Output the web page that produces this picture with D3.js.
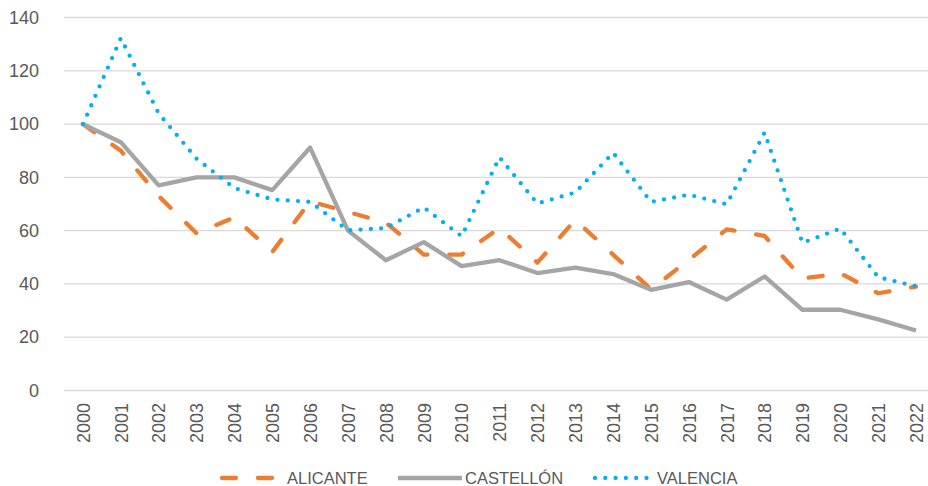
<!DOCTYPE html>
<html>
<head>
<meta charset="utf-8">
<script src="https://cdn.jsdelivr.net/npm/d3@7"></script>
<style>
  body { margin: 0; background: #fff; }
  text { fill: #595959; }
</style>
</head>
<body>
<div id="chart"></div>
<script>
// data
var years = ["2000","2001","2002","2003","2004","2005","2006","2007","2008","2009","2010",
  "2011","2012","2013","2014","2015","2016","2017","2018","2019","2020","2021","2022"];
var alicante = [100, 90, 73, 59, 65, 52, 71, 67, 63, 51, 51, 61, 48, 64, 51, 38, 49, 60.5, 58, 42, 44, 36.5, 39];
var castellon = [100, 93.2, 77, 80, 80, 75.2, 91.2, 60, 48.9, 55.7, 46.7, 48.9, 44.1, 46.1, 43.7, 37.8, 40.7, 34.1, 42.8, 30.3, 30.3, 26.7, 22.5];
var valencia = [100, 132.2, 104, 87, 76, 71.7, 70.8, 60.1, 61, 68.7, 57.9, 87.5, 70.2, 74.3, 89.2, 70.8, 73.5, 69.9, 96.8, 55.4, 60.8, 42.5, 39.1];
var yTicks = [0, 20, 40, 60, 80, 100, 120, 140];
var seriesNames = ["ALICANTE", "CASTELLÓN", "VALENCIA"];

var svgWidth = 928;
var svgHeight = 486;
var font = "Liberation Sans, Arial, sans-serif";

var svg = d3.select("#chart")
  .append("svg")
  .attr("width", svgWidth)
  .attr("height", svgHeight);

var xScale = d3.scalePoint()
  .domain(years)
  .range([64, 935])
  .padding(0.5);

var yScale = d3.scaleLinear()
  .domain([0, 140])
  .range([390.5, 17.5]);

// gridlines
svg.append("g")
  .selectAll("line")
  .data(yTicks)
  .enter()
  .append("line")
  .attr("x1", 64)
  .attr("x2", 935)
  .attr("y1", d => yScale(d))
  .attr("y2", d => yScale(d))
  .attr("stroke", "#d9d9d9")
  .attr("stroke-width", 1.3);

// y labels
var leftAxis = d3.axisLeft(yScale).tickValues(yTicks).tickSize(0).tickPadding(0);
var yAxis = svg.append("g")
  .attr("transform", "translate(39,0)")
  .call(leftAxis);
yAxis.select(".domain").remove();
yAxis.selectAll("text")
  .attr("font-family", font)
  .attr("font-size", 18)
  .attr("fill", "#595959");

// x labels, rotated
var bottomAxis = d3.axisBottom(xScale).tickSize(0).tickPadding(0);
var xAxis = svg.append("g")
  .attr("transform", "translate(0,403)")
  .call(bottomAxis);
xAxis.select(".domain").remove();
xAxis.selectAll("text")
  .attr("font-family", font)
  .attr("font-size", 18)
  .attr("fill", "#595959")
  .attr("text-anchor", "end")
  .attr("dy", "0.35em")
  .attr("y", 0)
  .attr("transform", "rotate(-90)");

var line = d3.line()
  .x((d, i) => xScale(years[i]))
  .y(d => yScale(d));

var styles = [
  {color: "#ed7d31", dash: "14,22", cap: "round", width: 4.3, values: alicante},
  {color: "#a5a5a5", dash: null, cap: "butt", width: 4.3, values: castellon},
  {color: "#00b0f0", dash: "0,10.3", cap: "round", width: 4.3, values: valencia}
];

styles.forEach(function(s) {
  svg.append("path")
    .datum(s.values)
    .attr("d", line)
    .attr("fill", "none")
    .attr("stroke", s.color)
    .attr("stroke-width", s.width)
    .attr("stroke-dasharray", s.dash)
    .attr("stroke-linecap", s.cap)
    .attr("stroke-linejoin", "round");
});

// legend
var legendY = 478;
var legendItems = [
  {x1: 222, x2: 278, tx: 287},
  {x1: 398, x2: 462, tx: 465},
  {x1: 595, x2: 648, tx: 657}
];
legendItems.forEach(function(item, i) {
  var s = styles[i];
  svg.append("line")
    .attr("x1", item.x1)
    .attr("x2", item.x2)
    .attr("y1", legendY)
    .attr("y2", legendY)
    .attr("stroke", s.color)
    .attr("stroke-width", s.width)
    .attr("stroke-dasharray", s.dash)
    .attr("stroke-linecap", s.cap);
  svg.append("text")
    .attr("x", item.tx)
    .attr("y", legendY)
    .attr("dy", "0.34em")
    .attr("font-family", font)
    .attr("font-size", 16.5)
    .attr("fill", "#595959")
    .text(seriesNames[i]);
});
</script>
</body>
</html>
